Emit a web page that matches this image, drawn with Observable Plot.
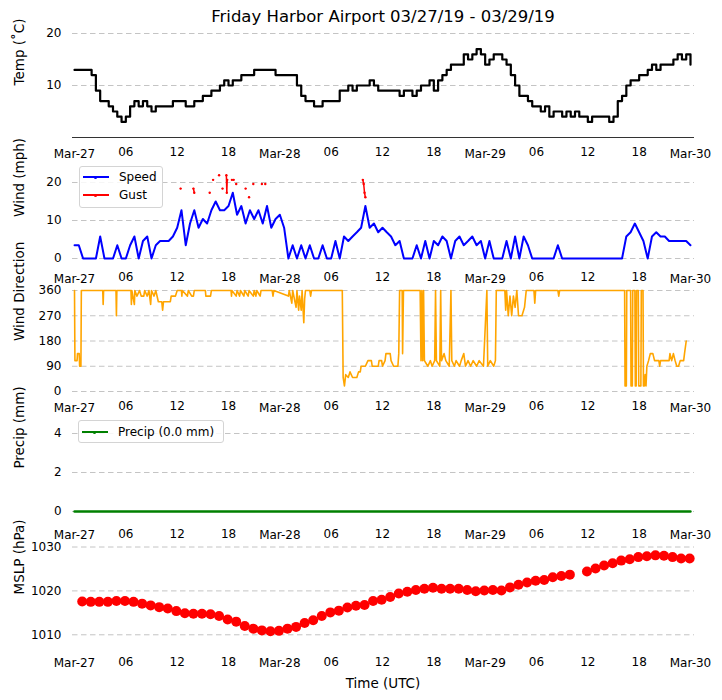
<!DOCTYPE html>
<html><head><meta charset="utf-8">
<script src="https://cdn.jsdelivr.net/npm/d3@7"></script>
<script src="https://cdn.jsdelivr.net/npm/@observablehq/plot@0.6"></script>
<style>
body{margin:0;background:#fff;font-family:"DejaVu Sans",sans-serif;}
#wrap{position:relative;width:722px;height:700px;overflow:hidden;background:#fff}
#wrap svg{position:absolute;left:0;overflow:visible}
.title{position:absolute;left:72px;width:622px;top:6px;text-align:center;font-size:16.5px;line-height:22px;color:#000}
.xlab{position:absolute;left:72px;width:622px;top:673px;text-align:center;font-size:13.5px;line-height:20px;color:#000}
.legend{position:absolute;background:rgba(255,255,255,0.85);border:1px solid #d4d4d4;border-radius:3px;font-size:12px;box-sizing:border-box}
.legend .row{position:absolute;left:0;height:16px;width:100%}
.legend .sw{position:absolute;left:3px;top:7px;width:26px;height:2px}
.legend .dot{position:absolute;left:14px;top:6.5px;width:3px;height:3px;border-radius:50%}
.legend .lt{position:absolute;left:39px;top:0;line-height:16px;color:#000}
</style></head>
<body><div id="wrap"></div>
<script>
// ---- time helpers (hours since 2019-03-27 00:00 UTC)
const START = Date.UTC(2019, 2, 27);
const at = h => new Date(START + h * 3600000);

// ---- tick labels
const hourTicks = [6, 12, 18, 30, 36, 42, 54, 60, 66];
const dayTicks = [0, 24, 48, 72];

// ---- temperature (deg C), every 30 minutes from 00:00 Mar-27
const tempValues = [13,13,13,13, 12,9,7,7, 6,5,4,3, 4,6,7,6, 7,6,5,6, 6,6,6,7,
  7,7,6,6, 7,7,8,8, 9,9,10,11, 10,11,11,12, 12,12,13,13, 13,13,13,12,
  12,12,12,12, 10,8,7,7, 6,6,7,7, 7,7,9,9, 10,9,10,10, 10,11,10,9,
  9,9,9,9, 8,9,9,8, 9,10,10,11, 9,11,12,13, 14,14,14,16, 15,16,17,16,
  14,15,16,16, 15,14,12,10, 8,8,7,6, 6,5,6,4, 5,5,4,5, 4,5,4,4,
  3,4,4,4, 4,3,4,7, 8,10,11,11, 12,12,13,14, 13,14,14,14, 15,16,15,16, 14];

// ---- wind speed (mph), every 30 minutes
const speedValues = [3.5,3.5,0,0, 0,0,5.8,0, 0,0,3.5,0, 0,3.5,5.8,0, 4.6,5.8,0,3.5, 4.6,4.6,4.6,5.8,
  8.1,12.7,3.5,9.2, 12.7,8.1,10.4,9.2, 12.7,15.0,12.7,12.7, 13.8,17.3,11.5,13.8, 9.2,12.7,10.4,12.7, 9.2,13.8,8.1,10.4,
  11.5,8.1,0,3.5, 0,3.5,0,3.5, 0,0,3.5,0, 0,4.6,0,5.8, 4.6,5.8,6.9,8.1, 13.8,8.1,9.2,6.9,
  8.1,6.9,5.8,3.5, 4.6,0,0,0, 3.5,0,4.6,0, 4.6,3.5,5.8,4.6, 0,4.6,5.8,3.5, 4.6,5.8,3.5,4.6,
  0,4.6,0,0, 0,4.6,0,5.8, 0,5.8,3.5,0, 0,0,0,0, 0,3.5,0,0, 0,0,0,0,
  0,0,0,0, 0,0,0,0, 0,5.8,6.9,9.2, 6.9,4.6,0,5.8, 6.9,5.8,5.8,4.6, 4.6,4.6,4.6,4.6, 3.5];

// ---- wind gusts (mph); null breaks the line
const gustHours = [12.4,12.45,13.9,14.0,14.05,15.8,15.85,16.2,16.25,16.9,16.95,17.3,17.35,17.75,17.8,17.85,17.9,
  18.4,18.45,18.6,18.65,18.9,18.95,20.0,20.05,20.4,20.45,20.9,20.95,21.9,21.95,22.3,22.35,33.7,33.8,33.9,34.0];
const gustValues = [18.4,null,18.4,17.3,null,17.3,null,20.7,null,21.9,null,18.4,null,21.9,17.3,20.7,null,
  20.7,null,20.7,null,19.6,null,18.4,null,16.1,null,19.6,null,19.6,null,19.6,null,20.7,19.6,17.3,16.1];

// ---- wind direction (degrees)
const dirHours = [0,0.05,0.3,0.35,0.55,0.6,0.75,0.8,3.3,3.35,3.4,4.85,4.9,4.95,6.6,6.65,6.7,7.0,7.05,7.3,7.6,7.8,8.1,8.2,8.5,8.7,8.9,9.0,9.3,9.5,
  9.8,10.2,10.3,10.4,11.2,11.3,11.8,12.0,12.5,12.55,12.6,13.2,13.3,13.7,13.9,14.0,15.3,15.35,15.9,16.0,18.3,18.35,18.4,18.9,19.0,19.3,19.4,19.8,19.9,20.3,
  20.4,20.9,21.0,21.2,21.3,21.7,21.8,23.1,23.2,23.3,25.0,25.1,25.4,25.5,25.9,26.0,26.2,26.3,26.5,26.6,26.8,26.9,27.0,27.5,27.6,27.7,31.3,31.4,31.55,31.7,
  32.0,32.2,32.5,33.0,33.2,33.4,33.5,34.0,34.3,34.7,34.8,35.5,35.6,35.9,36.0,36.3,36.4,36.9,37.0,37.3,37.8,37.9,38.0,38.3,38.35,38.45,40.4,40.5,40.6,40.7,
  40.8,40.9,41.3,41.6,41.8,42.1,42.2,42.3,42.7,42.8,42.9,43.2,43.4,43.8,44.0,44.1,44.4,44.6,45.0,45.2,45.5,45.7,46.0,46.3,46.6,47.0,47.3,47.8,48.2,48.3,
  48.6,49.0,49.2,49.3,50.3,50.4,50.5,50.7,50.9,51.1,51.3,51.5,51.7,51.9,52.3,52.6,52.8,53.7,53.8,53.9,56.5,56.6,56.7,64.3,64.35,64.5,64.55,65.0,65.05,65.2,
  65.25,65.5,65.55,65.65,65.7,65.9,65.95,66.2,66.25,66.45,66.5,66.6,66.7,66.8,66.9,67.1,67.3,67.6,67.8,68.3,68.4,68.5,69.5,69.6,69.8,70.0,70.2,70.4,70.6,70.8,
  71.2,71.3,71.5];
const dirValues = [360,110,110,135,135,90,90,360,360,310,360,360,270,360,360,310,360,310,360,340,360,340,340,360,340,360,310,360,340,360,
  320,320,290,320,320,340,340,360,360,340,360,340,360,340,340,360,360,340,340,360,360,340,360,340,360,340,360,340,360,340,
  360,340,360,340,360,340,360,360,340,360,340,360,315,360,300,360,290,340,290,360,245,330,360,360,340,360,360,50,20,60,
  50,70,50,50,70,70,90,90,110,110,90,90,110,110,90,110,135,135,110,90,90,135,360,360,135,360,360,110,360,110,
  360,110,90,110,90,110,360,110,90,360,110,135,110,90,360,110,90,110,90,110,135,90,110,90,110,90,110,90,360,90,
  110,90,110,360,360,290,360,270,340,270,340,300,360,270,270,300,360,360,315,360,360,340,360,360,20,20,360,360,20,20,
  360,360,20,20,360,360,20,20,360,360,20,20,60,20,90,110,135,135,110,110,90,110,110,135,110,135,110,90,90,110,
  110,135,180];

// ---- precipitation (mm)
const precipHours = [0,6,12,18,24,30,36,42,48,54,60,66,72];
const precipValues = [0,0,0,0,0,0,0,0,0,0,0,0,0];

// ---- mean sea-level pressure (hPa), hourly at hh:53 from 00:53 Mar-27 (one missing report)
const mslpValues = [1017.6,1017.5,1017.5,1017.5,1017.7,1017.7,1017.5,1017.1,1016.7,1016.3,
  1016.0,1015.4,1014.9,1014.8,1014.8,1014.7,1014.3,1013.5,1013.0,1012.0,
  1011.4,1011.0,1010.8,1010.9,1011.4,1011.8,1012.7,1013.3,1014.3,1015.1,
  1015.5,1016.2,1016.6,1016.8,1017.7,1018.0,1018.6,1019.4,1019.8,1020.2,
  1020.5,1020.7,1020.5,1020.5,1020.5,1020.2,1019.9,1020.1,1020.2,1020.1,
  1020.8,1021.4,1021.9,1022.3,1022.5,1023.1,1023.4,1023.7,null,1024.4,
  1025.1,1025.8,1026.3,1026.9,1027.2,1027.7,1027.9,1028.1,1028.0,1027.7,
  1027.4,1027.4];

// ---- tables
const tempData = tempValues.map((v, i) => ({t: at(i * 0.5), v}));
const speedData = speedValues.map((v, i) => ({t: at(i * 0.5), v}));
const gustData = gustHours.map((h, i) => ({t: at(h), v: gustValues[i]}));
const dirData = dirHours.map((h, i) => ({t: at(h), v: dirValues[i]}));
const precipData = precipHours.map((h, i) => ({t: at(h), v: precipValues[i]}));
const mslpData = mslpValues.map((v, i) => ({t: at(0.9 + i), v})).filter(d => d.v != null);

const wrap = document.getElementById("wrap");
const FONT = "DejaVu Sans, sans-serif";

function panel({top, axesTop, axesBottom, domain, yticks, ylabel, marks}) {
  const mb = 40;
  const svg = Plot.plot({
    width: 722,
    height: axesBottom - top + mb,
    marginLeft: 72, marginRight: 28, marginTop: axesTop - top, marginBottom: mb,
    style: {background: "transparent", overflow: "visible", fontFamily: FONT, fontSize: "12px", color: "#000"},
    x: {type: "utc", domain: [at(0), at(72)], range: [74, 690]},
    y: {domain},
    marks: [
      Plot.ruleY(yticks, {stroke: "#c4c4c4", strokeWidth: 1, strokeDasharray: "5.5,3.5"}),
      ...marks,
      Plot.axisX(hourTicks.map(at), {tickSize: 0, tickPadding: 10, tickFormat: d3.utcFormat("%H"), label: null, fontSize: 12}),
      Plot.axisX(dayTicks.map(at), {tickSize: 0, tickPadding: 11.5, tickFormat: d3.utcFormat("%b-%d"), label: null, fontSize: 12}),
      Plot.axisY(yticks, {tickSize: 0, tickPadding: 11, tickFormat: d => String(d), label: null, fontSize: 12}),
      Plot.text([ylabel], {text: d => d, frameAnchor: "left", dx: -53, rotate: -90, fontSize: 13.5, fill: "#000"})
    ]
  });
  svg.style.top = top + "px";
  wrap.appendChild(svg);
}

// Temperature
panel({top: 26, axesTop: 33, axesBottom: 137, domain: [0, 20], yticks: [10, 20], ylabel: "Temp (\u02DAC)",
  marks: [
    Plot.ruleY([0], {stroke: "#333", strokeWidth: 1}),
    Plot.line(tempData, {x: "t", y: "v", curve: "step-after", stroke: "#000", strokeWidth: 2.2})
  ]});

// Wind speed / gust
panel({top: 162, axesTop: 170.6, axesBottom: 262.2, domain: [-1.1, 23.0], yticks: [0, 10, 20], ylabel: "Wind (mph)",
  marks: [
    Plot.line(speedData, {x: "t", y: "v", stroke: "#0000ff", strokeWidth: 2}),
    Plot.line(gustData, {x: "t", y: "v", stroke: "#ff0000", strokeWidth: 1.5}),
    Plot.dot(gustData.filter(d => d.v != null), {x: "t", y: "v", r: 1.2, fill: "#ff0000"})
  ]});

// Wind direction
panel({top: 282, axesTop: 290, axesBottom: 391, domain: [0, 360], yticks: [0, 90, 180, 270, 360], ylabel: "Wind Direction",
  marks: [
    Plot.line(dirData, {x: "t", y: "v", stroke: "#ffa500", strokeWidth: 1.6})
  ]});

// Precipitation
panel({top: 412, axesTop: 417.4, axesBottom: 518.8, domain: [-0.4, 4.8], yticks: [0, 2, 4], ylabel: "Precip (mm)",
  marks: [
    Plot.line(precipData, {x: "t", y: "v", stroke: "#008000", strokeWidth: 2.4})
  ]});

// MSLP
panel({top: 540, axesTop: 541.5, axesBottom: 646.5, domain: [1007.22, 1031.14], yticks: [1010, 1020, 1030], ylabel: "MSLP (hPa)",
  marks: [
    Plot.dot(mslpData, {x: "t", y: "v", r: 5, fill: "#ff0000"})
  ]});

// Title and x label
const title = document.createElement("div");
title.className = "title";
title.textContent = "Friday Harbor Airport 03/27/19 - 03/29/19";
wrap.appendChild(title);
const xl = document.createElement("div");
xl.className = "xlab";
xl.textContent = "Time (UTC)";
wrap.appendChild(xl);

// Legends
function legend(left, top, width, height, items) {
  const box = document.createElement("div");
  box.className = "legend";
  Object.assign(box.style, {left: left + "px", top: top + "px", width: width + "px", height: height + "px"});
  items.forEach(([label, color, y]) => {
    const row = document.createElement("div");
    row.className = "row";
    row.style.top = y + "px";
    row.innerHTML = `<div class="sw" style="background:${color}"></div><div class="dot" style="background:${color}"></div><div class="lt">${label}</div>`;
    box.appendChild(row);
  });
  wrap.appendChild(box);
}
legend(79, 166, 84, 42, [["Speed", "#0000ff", 2], ["Gust", "#ff0000", 20]]);
legend(78, 420, 146, 23, [["Precip (0.0 mm)", "#008000", 3]]);
</script>
</body></html>
